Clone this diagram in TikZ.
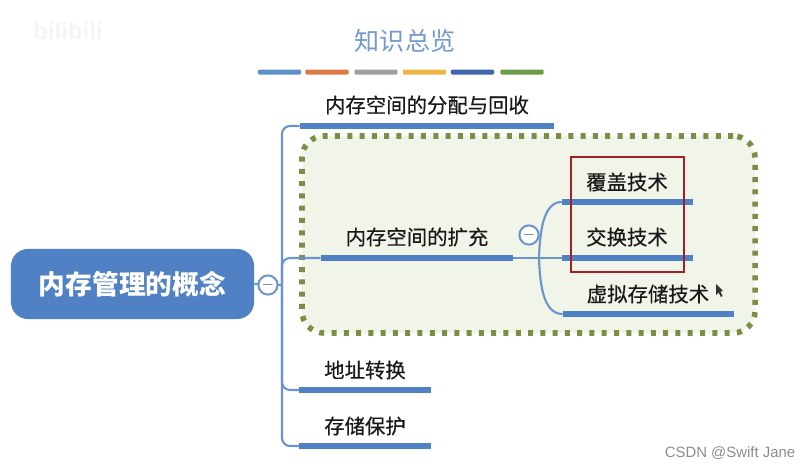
\documentclass[tikz,border=0pt]{standalone}
\usepackage{fontspec}
\newfontfamily\cjk{Noto Sans CJK SC}
\newfontfamily\cjkmid[FakeBold=0.35]{Noto Sans CJK SC}
\setsansfont{Liberation Sans}
\definecolor{mapblue}{HTML}{4F81C4}
\definecolor{framegreen}{HTML}{7A8E45}
\definecolor{framefill}{HTML}{F1F4E8}
\definecolor{boxred}{HTML}{A61E26}
\definecolor{stripeblue}{HTML}{5B92C5}
\definecolor{stripeorange}{HTML}{DB7A45}
\definecolor{stripegray}{HTML}{A0A0A0}
\definecolor{stripeyellow}{HTML}{EFB544}
\definecolor{stripenavy}{HTML}{3F66AC}
\definecolor{stripegreen}{HTML}{6F9C49}
\tikzset{
  bar/.style={fill=#1,minimum width=1.075cm,minimum height=0.125cm,inner sep=0pt,rounded corners=0.03cm},
  topic/.style={fill=mapblue,minimum height=0.15cm,inner sep=0pt},
  label/.style={font=\cjkmid\fontsize{14.5pt}{14.5pt}\selectfont,text=black!90,inner sep=0pt},
  branch/.style={draw=mapblue!85!white,line width=1.5pt},
  fold/.style={circle,draw=mapblue!85!white,line width=1.4pt,fill=white,minimum size=0.48cm,inner sep=0pt,text=mapblue!45!gray,font=\normalsize\boldmath}
}
\begin{document}
\begin{tikzpicture}[x=0.025cm,y=-0.025cm]
\useasboundingbox (0,0) rectangle (811,468);

\node[font=\sffamily\bfseries\fontsize{17pt}{17pt}\selectfont,text=black!4] (wmtop) at (68,31) {bilibili};
\node[font=\cjk\fontsize{17.8pt}{17.8pt}\selectfont,text=mapblue!80!white,inner sep=0pt] (title) at (405,41) {知识总览};

\node[bar=stripeblue] (barone) at (279.5,72) {};
\node[bar=stripeorange] (bartwo) at (327,72) {};
\node[bar=stripegray] (barthree) at (376,72) {};
\node[bar=stripeyellow] (barfour) at (424.5,72) {};
\node[bar=stripenavy] (barfive) at (472.5,72) {};
\node[bar=stripegreen] (barsix) at (522,72) {};

\node[draw=framegreen,fill=framefill,line width=4pt,dash pattern=on 0.125cm off 0.182cm,rounded corners=0.55cm,minimum width=11.325cm,minimum height=4.925cm,inner sep=0pt] (frame) at (528.5,234.5) {};

\node[fill=mapblue,rounded corners=0.42cm,minimum width=6.075cm,minimum height=1.75cm,inner sep=0pt,text=white,font=\cjk\bfseries\fontsize{19pt}{19pt}\selectfont] (root) at (132.5,284) {内存管理的概念};

\node[topic,minimum width=6.35cm] (alloc) at (427,126) {};
\node[topic,minimum width=4.8cm] (extend) at (417,258) {};
\node[topic,minimum width=3.275cm] (addr) at (365,390) {};
\node[topic,minimum width=3.275cm] (protect) at (365,446) {};
\node[topic,minimum width=3.275cm] (cover) at (627.5,202) {};
\node[topic,minimum width=3.275cm] (swap) at (627.5,258) {};
\node[topic,minimum width=4.275cm] (virtual) at (648.5,314) {};

\node[label] (alloctext) at (427,105) {内存空间的分配与回收};
\node[label] (extendtext) at (417,237) {内存空间的扩充};
\node[label] (addrtext) at (365,370) {地址转换};
\node[label] (protecttext) at (365,426) {存储保护};
\node[label] (covertext) at (627,182) {覆盖技术};
\node[label] (swaptext) at (627,237) {交换技术};
\node[label] (virtualtext) at (648,294) {虚拟存储技术};

\coordinate (trunk) at (282,285);
\coordinate (joint) at (539,258);

\draw[branch] (root.east) -- (trunk);
\draw[branch,rounded corners=0.2cm] (alloc.west) -| (trunk);
\draw[branch,rounded corners=0.2cm] (trunk) |- (extend.west);
\draw[branch,rounded corners=0.2cm] (trunk) |- (addr.west);
\draw[branch,rounded corners=0.2cm] (trunk) |- (protect.west);
\draw[branch] (extend.east) -- (swap.west);
\draw[branch] (joint) .. controls (540,226) and (545,202) .. (cover.west);
\draw[branch] (joint) .. controls (540,290) and (545,314) .. (virtual.west);

\node[fold] (foldroot) at (268,285) {$-$};
\node[fold] (foldextend) at (529,235) {$-$};

\node[draw=boxred,line width=2pt,minimum width=2.825cm,minimum height=2.875cm,inner sep=0pt] (redbox) at (627.5,214.5) {};

\fill[black!80] (716,284) -- (716,295) -- (718.5,292.5) -- (721,297) -- (722.5,296) -- (720.5,291.5) -- (723,291) -- cycle;

\node[font=\sffamily\fontsize{10.6pt}{10.6pt}\selectfont,text=black!45,inner sep=0pt] (wmbottom) at (730,453) {CSDN @Swift Jane};
\end{tikzpicture}
\end{document}
